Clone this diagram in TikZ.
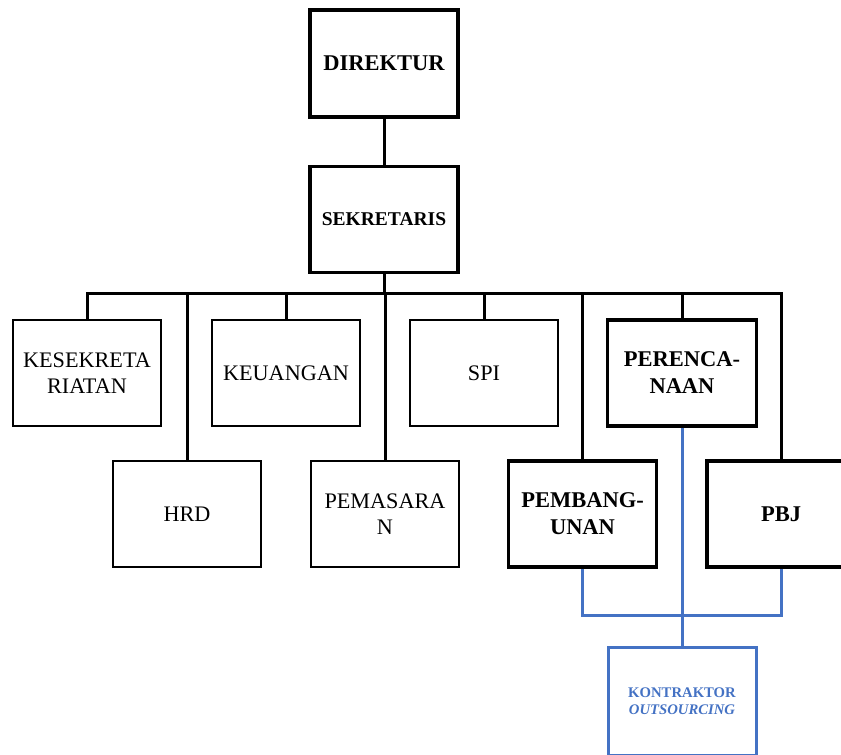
\documentclass[tikz,border=0pt]{standalone}
\usepackage{fontspec}
\setmainfont{Liberation Serif}
\usepackage{xcolor}
\definecolor{kon-blue}{RGB}{68,114,196}
\tikzset{
    unit-box/.style = {draw=black, fill=white, line width=2.2pt, rectangle, minimum width=148pt, minimum height=106pt, inner sep=0pt, align=center, font=\fontsize{22.2}{26}\selectfont},
    unit-box-bold/.style = {unit-box, line width=3.6pt, font=\fontsize{22.5}{27}\selectfont\bfseries},
    link-line/.style = {draw=black, line width=3pt},
    blue-line/.style = {draw=kon-blue, line width=3pt},
}

\begin{document}
\begin{tikzpicture}[x=1pt, y=-1pt]
\useasboundingbox (0,0) rectangle (841,755);
% top
\node[unit-box-bold, minimum height=107pt] (dir) at (384,63.5) {DIREKTUR};
\node[unit-box-bold, font=\fontsize{19.5}{23}\selectfont\bfseries] (sek) at (384,219.5) {SEKRETARIS};
% first row
\node[unit-box] (kes) at (87,373) {KESEKRETA\\RIATAN};
\node[unit-box] (keu) at (286,373) {KEUANGAN};
\node[unit-box] (spi) at (484,373) {SPI};
\node[unit-box-bold, minimum width=149pt] (per) at (682,373) {PERENCA-\\NAAN};
% second row
\node[unit-box] (hrd) at (187,514) {HRD};
\node[unit-box] (pem) at (385,514) {PEMASARA\\N};
\node[unit-box-bold] (pbg) at (582.5,514) {PEMBANG-\\UNAN};
\node[unit-box-bold] (pbj) at (781,514) {PBJ};
% outsourcing
\node[unit-box, draw=kon-blue, line width=3pt, minimum height=108pt, text=kon-blue, font=\fontsize{14.7}{17.5}\selectfont\bfseries] (kon) at (682,701) {KONTRAKTOR\\\textit{OUTSOURCING}};

\coordinate (bus) at (384,293);
\coordinate (split) at (682,615);
\draw[link-line] (dir.south) -- (sek.north);
\draw[link-line] (sek.south) -- (bus);
\foreach \n in {kes,hrd,keu,pem,spi,pbg,per,pbj}
    \draw[link-line] (\n.north) |- (bus);
\draw[blue-line] (per.south) -- (kon.north);
\draw[blue-line] (pbg.south) |- (split) -| (pbj.south);
\end{tikzpicture}
\end{document}
